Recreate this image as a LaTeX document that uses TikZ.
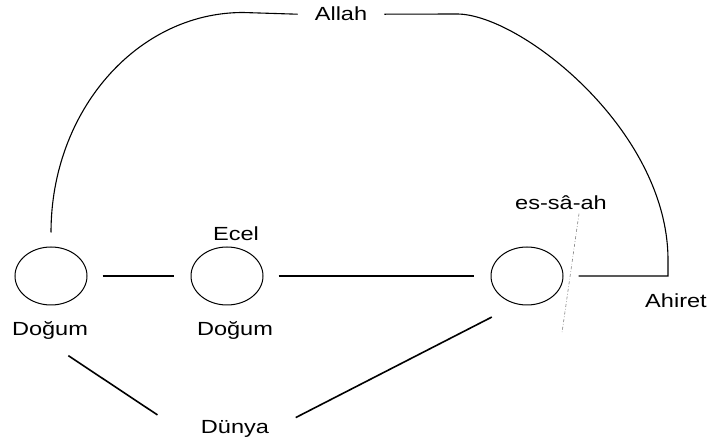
\documentclass[tikz,border=0pt]{standalone}
\usepackage{fontspec}
\setmainfont{Liberation Sans}[FakeStretch=1.24]
\usetikzlibrary{positioning,calc,shapes.geometric}

\begin{document}
\begin{tikzpicture}[x=1pt,y=-1pt,font=\fontsize{19}{22}\selectfont,
    ring/.style={draw,ellipse,line width=1pt,minimum width=72pt,minimum height=58pt,inner sep=0pt},
    lbl/.style={anchor=base},
    link/.style={line width=1.4pt,shorten <=15pt,shorten >=17pt},
    bow/.style={line width=1.1pt}]
  \useasboundingbox (0,0) rectangle (710,443);
  % circles
  \node[ring] (c1) at (51,276) {};
  \node[ring] (c2) at (227,276) {};
  \node[ring] (c3) at (527,276) {};
  % labels
  \node[lbl,inner xsep=17pt] (allah) at (341,21) {Allah};
  \node[lbl] (ecel) at (236,241) {Ecel};
  \node[lbl] (dog1) at (50,336) {Doğum};
  \node[lbl] (dog2) at (235,336) {Doğum};
  \node[lbl] (dunya) at (235,434) {Dünya};
  \node[lbl] (ahiret) at (676,308) {Ahiret};
  \node[lbl] (sa) at (561,210) {es-sâ-ah};
  % the line of life
  \draw[link] (c1) -- (c2);
  \draw[link] (c2) -- (c3);
  % the great bow over it
  \draw[bow] ([yshift=14pt]c1.north) arc[start angle=180,end angle=270,x radius=192,y radius=220] -- (allah.west);
  \draw[bow,shorten >=15pt] (allah.east) -- (457,14) .. controls (520,14) and (668,130) .. (668,260) |- (c3.east);
  % dünya
  \draw[line width=1.6pt,shorten <=22pt,shorten >=48pt] (dog1.south) -- (dunya.south west);
  \draw[line width=1.6pt,shorten <=26pt,shorten >=28pt] (dunya.east) -- (c3.250);
  % es-sâ-ah
  \draw[gray,line width=0.6pt,dash dot] ([xshift=18pt]sa.south) -- ++(-17,119);
\end{tikzpicture}
\end{document}
